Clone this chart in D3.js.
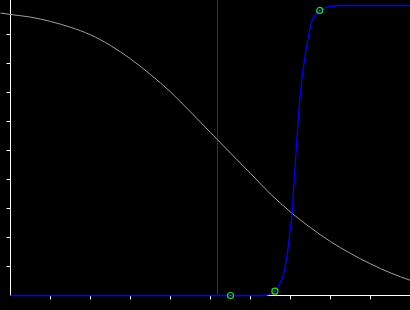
<!DOCTYPE html>
<html>
<head>
<meta charset="utf-8">
<script src="https://cdn.jsdelivr.net/npm/d3@7/dist/d3.min.js"></script>
<style>
  html, body { margin: 0; padding: 0; background: #000; }
  svg { display: block; }
</style>
</head>
<body>
<svg id="chart" width="410" height="310"></svg>
<script>
// ---- data ----
const xTicks = [1, 2, 3, 4, 5, 6, 7, 8, 9];
const yTicks = [0.1, 0.2, 0.3, 0.4, 0.5, 0.6, 0.7, 0.8, 0.9];

const grayX = [-0.25, 0, 0.5, 1, 1.5, 2, 2.5, 3, 3.5, 4, 4.5, 5, 5.5, 6, 6.5, 7, 7.5, 8, 8.5, 9, 9.5, 10];
const grayY = [0.974, 0.969, 0.960, 0.945, 0.925, 0.899, 0.862, 0.816, 0.762, 0.702, 0.633, 0.562, 0.491, 0.421, 0.350, 0.288, 0.234, 0.186, 0.145, 0.109, 0.078, 0.052];

const blueX = [0, 6.325, 6.45, 6.6, 6.83, 6.92, 7.0, 7.04, 7.08, 7.125, 7.17, 7.23, 7.29, 7.375, 7.46, 7.54, 7.73, 8.0, 8.25, 10];
const blueY = [0, 0, 0.003, 0.015, 0.076, 0.145, 0.234, 0.283, 0.372, 0.466, 0.559, 0.672, 0.752, 0.834, 0.903, 0.948, 0.983, 0.997, 1, 1];

const markX = [5.5, 6.61, 7.73];
const markY = [0, 0.015, 0.983];

const cutX = 5.175;

// ---- drawing ----
const svg = d3.select("#chart");
const W = 410, H = 310;
svg.append("rect").attr("width", W).attr("height", H).attr("fill", "#000");

const x = d3.scaleLinear().domain([0, 10]).range([10.5, 410.5]);
const y = d3.scaleLinear().domain([0, 1]).range([295.5, 5.5]);

// axes
const xAxis = d3.axisBottom(x).tickValues(xTicks).tickSize(3).tickSizeOuter(0).tickFormat("").offset(0);
const yAxis = d3.axisLeft(y).tickValues(yTicks).tickSize(3).tickSizeOuter(0).tickFormat("").offset(0);

const gx = svg.append("g").attr("transform", `translate(0,${y(0)})`).call(xAxis);
gx.select(".domain").remove();
gx.selectAll("line").attr("stroke", "#fff").attr("y1", 0.5).attr("y2", 4);
const gy = svg.append("g").attr("transform", `translate(${x(0)},0)`).call(yAxis);
gy.select(".domain").remove();
gy.selectAll("line").attr("stroke", "#fff").attr("x1", -0.5).attr("x2", -4);

svg.append("line").attr("x1", x(0)).attr("x2", x(10)).attr("y1", y(0)).attr("y2", y(0))
  .attr("stroke", "#fff").attr("stroke-width", 1);
svg.append("line").attr("x1", x(0)).attr("x2", x(0)).attr("y1", 0).attr("y2", y(0))
  .attr("stroke", "#fff").attr("stroke-width", 1);

// vertical cut line
svg.append("line").attr("x1", x(cutX)).attr("x2", x(cutX))
  .attr("y1", 0).attr("y2", y(0))
  .attr("stroke", "#800080").attr("stroke-width", 1);

// gray curve
const line = d3.line().x(d => x(d[0])).y(d => y(d[1])).curve(d3.curveMonotoneX);
svg.append("path").datum(grayX.map((v, i) => [v, grayY[i]]))
  .attr("d", line).attr("fill", "none").attr("stroke", "#a0a0a0").attr("stroke-width", 1);

// blue curve
svg.append("path").datum(blueX.map((v, i) => [v, blueY[i]]))
  .attr("d", line).attr("fill", "none").attr("stroke", "#0000ff").attr("stroke-width", 1.3);

// markers
const marks = svg.append("g");
markX.forEach((v, i) => {
  marks.append("circle").attr("cx", x(v)).attr("cy", y(markY[i])).attr("r", 3)
    .attr("fill", "none").attr("stroke", "#22dd22").attr("stroke-width", 1.2);
  marks.append("circle").attr("cx", x(v)).attr("cy", y(markY[i])).attr("r", 0.6)
    .attr("fill", "#22dd22");
});
</script>
</body>
</html>
